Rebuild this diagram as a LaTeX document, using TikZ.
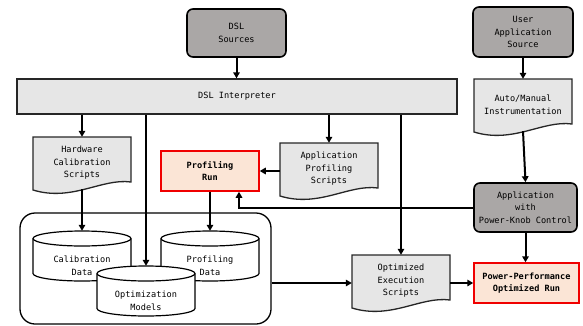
\documentclass[tikz,border=0pt]{standalone}
\usepackage{fontspec}
\setmonofont{DejaVu Sans Mono}
\usetikzlibrary{arrows.meta,positioning,calc}
\definecolor{srcgray}{RGB}{170,167,166}
\definecolor{boxgray}{RGB}{230,230,230}
\definecolor{runfill}{RGB}{251,229,214}
\definecolor{runred}{RGB}{240,0,0}
\tikzset{
  flowfont/.style={font=\ttfamily\fontsize{8.6}{12.6}\selectfont, align=center, text=black},
  srcbox/.style={flowfont, draw=black, line width=1.6pt, rounded corners=6pt, fill=srcgray},
  interpbox/.style={flowfont, draw=black!85, line width=1.4pt, fill=boxgray},
  runbox/.style={flowfont, font=\ttfamily\bfseries\fontsize{8.6}{12.6}\selectfont, draw=runred, line width=1.5pt, fill=runfill},
  docshape/.style={draw=black!85, line width=1.3pt, fill=boxgray},
  doctext/.style={flowfont, minimum width=98pt, minimum height=52pt, inner sep=0pt},
  storebox/.style={draw=black, line width=1.3pt, rounded corners=15pt},
  cylshape/.style={draw=black, line width=1.2pt, fill=white},
  cylbox/.style={minimum width=98pt, minimum height=50pt, inner sep=0pt},
  cyltext/.style={flowfont, inner sep=1pt},
  flowarrow/.style={-{Triangle[length=6pt,width=6.5pt]}, line width=2pt},
}
% document shape: name, x centre, top y, text
\newcommand{\docnode}[4]{%
  \path[docshape] (#2-49,#3) -- (#2+49,#3) -- (#2+49,#3-45)
    .. controls (#2+19.6,#3-41) and (#2-9.8,#3-65) .. (#2-49,#3-53) -- cycle;
  \node[doctext] (#1) at (#2,#3-26) {#4};
}
% data store: name, x centre, y centre, text
\newcommand{\cylnode}[4]{%
  \path[cylshape] (#2-49,#3+17.5) -- (#2-49,#3-17.5)
    arc[start angle=180, end angle=360, x radius=49, y radius=7.5]
    -- (#2+49,#3+17.5)
    arc[start angle=0, end angle=180, x radius=49, y radius=7.5] -- cycle;
  \draw[cylshape, fill=none] (#2-49,#3+17.5) arc[start angle=180, end angle=360, x radius=49, y radius=7.5];
  \node[cylbox] (#1) at (#2,#3) {};
  \node[cyltext] (#1-txt) at (#2,#3-10) {#4};
}
\begin{document}
\begin{tikzpicture}[x=1pt, y=1pt]
  \useasboundingbox (0,0) rectangle (583,325);
  % sources and interpreter
  \node[srcbox, minimum width=99pt, minimum height=48pt] (dslsrc) at (236.5,292) {DSL\\Sources};
  \node[srcbox, minimum width=100pt, minimum height=50pt] (usersrc) at (523,293) {User\\Application\\Source};
  \node[interpbox, minimum width=440pt, minimum height=35pt] (interp) at (237,228.5) {DSL Interpreter};
  \docnode{instr}{523}{246}{Auto/Manual\\Instrumentation}
  % scripts and runs
  \docnode{hwscr}{82}{188}{Hardware\\Calibration\\Scripts}
  \node[runbox, minimum width=98pt, minimum height=40pt] (profrun) at (210,154) {Profiling\\Run};
  \docnode{appscr}{329}{182}{Application\\Profiling\\Scripts}
  \node[srcbox, minimum width=103pt, minimum height=49pt] (knob) at (525.5,117.5) {Application\\with\\Power-Knob Control};
  \node[runbox, minimum width=105pt, minimum height=40pt] (ppor) at (526.5,42) {Power-Performance\\Optimized Run};
  \docnode{optscr}{401}{70}{Optimized\\Execution\\Scripts}
  % data store
  \node[storebox, minimum width=251pt, minimum height=111pt] (store) at (145.5,56.5) {};
  \cylnode{caldata}{82}{69}{Calibration\\Data}
  \cylnode{profdata}{210}{69}{Profiling\\Data}
  \cylnode{optmod}{146}{34}{Optimization\\Models}
  % connectors
  \draw[flowarrow] (dslsrc.south) -- (dslsrc.south |- interp.north);
  \draw[flowarrow] (usersrc.south) -- (instr.north);
  \draw[flowarrow] (hwscr.north |- interp.south) -- (hwscr.north);
  \draw[flowarrow] (optmod.north |- interp.south) -- (optmod.north);
  \draw[flowarrow] (appscr.north |- interp.south) -- (appscr.north);
  \draw[flowarrow] (optscr.north |- interp.south) -- (optscr.north);
  \draw[flowarrow] (appscr.west |- profrun.east) -- (profrun.east);
  \draw[flowarrow] (hwscr.south) -- (caldata.north);
  \draw[flowarrow] (profrun.south) -- (profdata.north);
  \draw[flowarrow] (instr.south) -- (knob.north);
  \draw[flowarrow] (knob.west) -| ([xshift=29pt]profrun.south);
  \draw[flowarrow] (knob.south) -- (knob.south |- ppor.north);
  \draw[flowarrow] (store.east |- ppor.west) -- (optscr.west |- ppor.west);
  \draw[flowarrow] (optscr.east |- ppor.west) -- (ppor.west);
\end{tikzpicture}
\end{document}
